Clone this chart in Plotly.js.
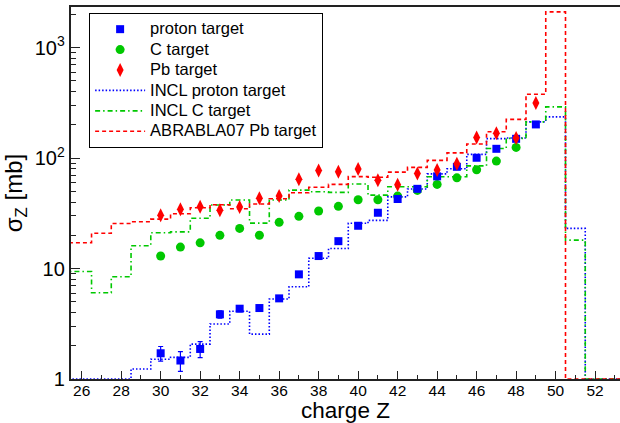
<!DOCTYPE html>
<html>
<head>
<meta charset="utf-8">
<script src="https://cdn.plot.ly/plotly-3.0.1.min.js"></script>
<style>html,body{margin:0;padding:0;background:#fff;}#chart{width:620px;height:423px;}</style>
</head>
<body>
<div id="chart"></div>
<script>
// Experimental points
const zData = [30,31,32,33,34,35,36,37,38,39,40,41,42,43,44,45,46,47,48,49];
const protonTarget = [1.71,1.47,1.87,3.85,4.33,4.39,5.37,8.86,12.98,17.7,24.4,32.0,42.6,52.7,68.3,83.4,100.7,121.4,149.5,201.8];
const protonErr = [0.26,0.30,0.31,0.30,0.25,0.25,0.30,0.40,0.6,0.8,1.0,1.3,1.7,2.0,2.5,3.0,3.5,4.0,5.0,6.0];
const zC = [30,31,32,33,34,35,36,37,38,39,40,41,42,43,44,45,46,47,48];
const cTarget = [12.98,15.65,17.1,19.97,23.1,20.0,26.2,29.7,33.2,36.6,42.0,42.0,45.3,51.0,57.8,66.3,78.4,94.0,125.0];
const pbTarget = [30.3,34.5,36.3,33.8,36.0,43.3,45.3,64.5,77.4,75.2,79.5,62.9,57.4,72.6,77.9,88.8,154,168,152,316];

// Model histograms (bin centres)
const zBins = [25,26,27,28,29,30,31,32,33,34,35,36,37,38,39,40,41,42,43,44,45,46,47,48,49,50,51,52,53,54];
const inclProton = [1,1,1,1,1.23,1.51,1.57,2.07,3.15,4.1,2.55,5.3,6.84,12.4,15.2,25.7,27.3,44.6,52.5,72,80,108,150,152,213,236,23.1,1,1,1];
const inclC = [9.4,9.4,6.04,8.43,16.1,21.1,21.5,28.5,37.6,41.7,25.8,41.7,51.3,49.6,48.9,58.2,46.2,55.0,55.0,67.7,67.7,85,122,151,213,291,18.1,1,1,1];
const abrabla = [17.1,17.1,20.9,25.6,26.5,28.0,31.3,35.5,37.8,34.8,38.4,42.8,48.5,54.4,57.8,68.0,67.0,74.7,82.4,95.4,111.5,134,173,224,379,2109,1,1,1,1];

const xTickVals = [26,28,30,32,34,36,38,40,42,44,46,48,50,52];

const BLUE = '#0000ff', GREEN = '#00c800', RED = '#ff0000';
const lg = s => '<span style="font-size:16.5px">' + s + '</span>';

const traces = [
  {x: zBins, y: inclProton, mode: 'lines', line: {shape: 'hvh', color: BLUE, width: 1.6, dash: '1.5px,2px'}, name: lg('INCL proton target'), legendrank: 4},
  {x: zBins, y: inclC, mode: 'lines', line: {shape: 'hvh', color: GREEN, width: 1.6, dash: '5px,3px,1.5px,3px'}, name: lg('INCL C target'), legendrank: 5},
  {x: zBins, y: abrabla, mode: 'lines', line: {shape: 'hvh', color: RED, width: 1.6, dash: '4px,3px'}, name: lg('ABRABLA07 Pb target'), legendrank: 6},
  {x: zC, y: cTarget, mode: 'markers', marker: {symbol: 'circle', size: 9, color: GREEN}, name: lg('C target'), legendrank: 2},
  {x: zData, y: protonTarget, mode: 'markers', marker: {symbol: 'square', size: 8, color: BLUE},
   error_y: {type: 'data', array: protonErr, color: BLUE, thickness: 1.2, width: 2.5}, name: lg('proton target'), legendrank: 1},
  {x: zData, y: pbTarget, mode: 'markers', marker: {symbol: 'diamond-tall', size: 10, color: RED}, name: lg('Pb target'), legendrank: 3}
];

const layout = {
  width: 620, height: 423,
  margin: {l: 71, r: 0, t: 7, b: 44},
  paper_bgcolor: '#fff', plot_bgcolor: '#fff',
  font: {family: 'Liberation Sans, Arial, sans-serif', color: '#000', size: 16},
  showlegend: true,
  legend: {x: 0.033, y: 0.984, xanchor: 'left', yanchor: 'top', bgcolor: '#fff', bordercolor: '#000', borderwidth: 1,
           font: {size: 13.4, family: 'Liberation Sans, Arial, sans-serif'}, itemwidth: 50, tracegroupgap: 0},
  xaxis: {
    range: [25.46, 53.26], showgrid: false, zeroline: false,
    showline: true, linecolor: '#222', linewidth: 2, mirror: true,
    ticks: 'inside', ticklen: 8, tickcolor: '#222', tickvals: xTickVals,
    tickfont: {size: 15.5}, ticklabelstandoff: -4,
    minor: {dtick: 1, ticks: 'inside', ticklen: 4, tickcolor: '#222', showgrid: false},
    title: {text: 'charge Z', font: {size: 22.5}, standoff: 9}
  },
  yaxis: {
    type: 'log', range: [0, 3.368], showgrid: false, zeroline: false,
    showline: true, linecolor: '#222', linewidth: 2, mirror: true,
    ticks: 'inside', ticklen: 9, tickcolor: '#222', dtick: 1, exponentformat: 'power',
    tickfont: {size: 16}, ticklabelstandoff: 1,
    minor: {dtick: 'D1', ticks: 'inside', ticklen: 5, tickcolor: '#222', showgrid: false},
    title: {text: 'σ<sub>Z</sub> [mb]', font: {size: 24}, standoff: 5}
  }
};

Plotly.newPlot('chart', traces, layout, {displayModeBar: false, staticPlot: true});
</script>
</body>
</html>
